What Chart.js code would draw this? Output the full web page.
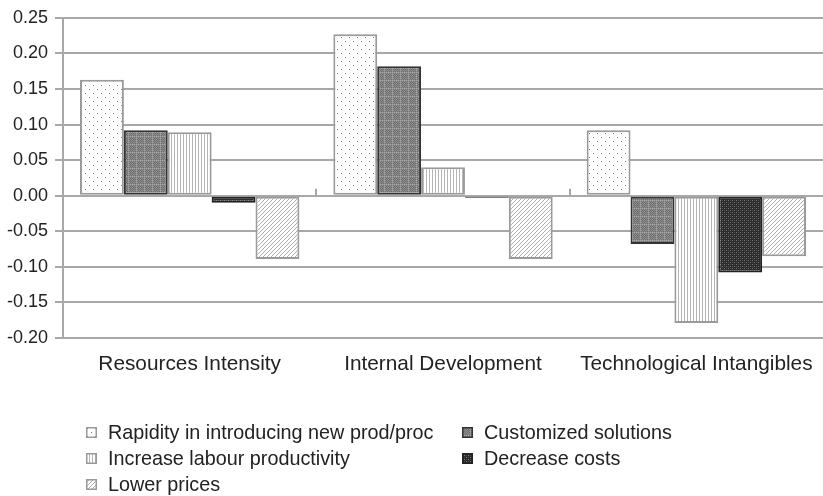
<!DOCTYPE html>
<html>
<head>
<meta charset="utf-8">
<script src="https://cdn.jsdelivr.net/npm/chart.js@4.4.1/dist/chart.umd.min.js"></script>
<style>
  html, body { margin: 0; padding: 0; background: #fff; overflow: hidden; }
  #wrap { position: relative; width: 823px; height: 496px; }
  #c { position: absolute; left: 0; top: 0; }
  #legend { position: absolute; left: 0; top: 0; width: 823px; height: 496px; pointer-events: none;
    font-family: "Liberation Sans", Arial, sans-serif; font-size: 19.8px; color: #222; }
  .li { position: absolute; white-space: nowrap; line-height: 24px; height: 24px; }
  .li canvas { position: absolute; left: 0; top: 7px; }
  .li span { position: absolute; left: 22px; top: 0; }
</style>
</head>
<body>
<div id="wrap">
  <canvas id="c" width="823" height="399"></canvas>
  <div id="legend"></div>
</div>
<script>
const categories = ["Resources Intensity", "Internal Development", "Technological Intangibles"];
const seriesNames = ["Rapidity in introducing new prod/proc", "Customized solutions", "Increase labour productivity", "Decrease costs", "Lower prices"];
const rapidity   = [0.163, 0.227, 0.092];
const customized = [0.092, 0.182, -0.068];
const increase   = [0.089, 0.040, -0.179];
const decrease   = [-0.010, -0.003, -0.108];
const lower      = [-0.089, -0.089, -0.085];
const yTicks = [-0.20, -0.15, -0.10, -0.05, 0.00, 0.05, 0.10, 0.15, 0.20, 0.25];

function makePattern(kind) {
  const c = document.createElement('canvas');
  const g = c.getContext('2d');
  if (kind === 'dots') {
    c.width = 8; c.height = 8;
    g.fillStyle = '#ffffff'; g.fillRect(0, 0, 8, 8);
    g.fillStyle = '#777';
    g.fillRect(1, 1, 1, 1); g.fillRect(5, 5, 1, 1);
  } else if (kind === 'checker') {
    c.width = 8; c.height = 8;
    g.fillStyle = '#8c8c8c'; g.fillRect(0, 0, 8, 8);
    for (let y = 0; y < 8; y++) for (let x = 0; x < 8; x++) {
      if ((x + y) % 2 === 0) { g.fillStyle = '#6f6f6f'; g.fillRect(x, y, 1, 1); }
    }
    g.fillStyle = '#a9a9a9';
    for (let i = 0; i < 8; i += 2) { g.fillRect(i, 0, 1, 1); g.fillRect(0, i, 1, 1); }
  } else if (kind === 'vlines') {
    c.width = 3; c.height = 3;
    g.fillStyle = '#ffffff'; g.fillRect(0, 0, 3, 3);
    g.fillStyle = '#b5b5b5'; g.fillRect(0, 0, 1, 3);
  } else if (kind === 'dark') {
    c.width = 4; c.height = 4;
    g.fillStyle = '#2b2b2b'; g.fillRect(0, 0, 4, 4);
    g.fillStyle = '#7a7a7a';
    g.fillRect(0, 0, 1, 1); g.fillRect(2, 2, 1, 1);
    g.fillStyle = '#4a4a4a';
    g.fillRect(2, 0, 1, 1); g.fillRect(0, 2, 1, 1);
  } else if (kind === 'diag') {
    c.width = 4; c.height = 4;
    g.fillStyle = '#ffffff'; g.fillRect(0, 0, 4, 4);
    g.fillStyle = '#b0b0b0';
    for (let i = 0; i < 4; i++) g.fillRect(3 - i, i, 1, 1);
  }
  return c;
}

const ctx = document.getElementById('c').getContext('2d');
const kinds = ['dots', 'checker', 'vlines', 'dark', 'diag'];
const borders = ['#9a9a9a', '#333333', '#9a9a9a', '#222222', '#9a9a9a'];
const values = [rapidity, customized, increase, decrease, lower];
const patternCanvases = kinds.map(makePattern);
const patterns = patternCanvases.map(pc => ctx.createPattern(pc, 'repeat'));

const datasets = seriesNames.map((name, i) => ({
  label: name,
  data: values[i],
  backgroundColor: patterns[i],
  borderColor: borders[i],
  borderWidth: 2,
  borderSkipped: false,
  categoryPercentage: 0.866,
  barPercentage: 1.0
}));

const zeroTicks = {
  id: 'zeroTicks',
  afterDatasetsDraw(chart) {
    const x = chart.scales.x, y = chart.scales.y;
    const y0 = y.getPixelForValue(0);
    const g = chart.ctx;
    g.save();
    g.strokeStyle = '#a6a6a6';
    g.lineWidth = 2;
    for (let i = 0; i < categories.length - 1; i++) {
      const px = Math.round((x.getPixelForValue(i) + x.getPixelForValue(i + 1)) / 2);
      g.beginPath(); g.moveTo(px, y0 - 7); g.lineTo(px, y0); g.stroke();
    }
    g.restore();
  }
};

new Chart(ctx, {
  type: 'bar',
  data: { labels: categories, datasets },
  plugins: [zeroTicks],
  options: {
    responsive: false,
    animation: false,
    layout: { padding: { top: 4, right: 0, bottom: 16, left: 0 } },
    plugins: { legend: { display: false }, tooltip: { enabled: false } },
    scales: {
      x: {
        grid: { display: false },
        border: { display: false },
        ticks: { color: '#222', padding: 6, maxRotation: 0, font: { family: 'Liberation Sans', size: 20.8 } }
      },
      y: {
        min: -0.20, max: 0.25,
        afterBuildTicks(axis) { axis.ticks = yTicks.map(v => ({ value: v })); },
        grid: { color: '#a8a8a8', lineWidth: 2, tickLength: 8 },
        border: { color: '#a8a8a8', width: 2 },
        ticks: {
          color: '#222', padding: 7,
          font: { family: 'Liberation Sans', size: 18 },
          callback: v => Number(v).toFixed(2)
        }
      }
    }
  }
});

// HTML legend in two columns
const legendPos = [[86, 420], [462, 420], [86, 446], [462, 446], [86, 472]];
const legend = document.getElementById('legend');
seriesNames.forEach((name, i) => {
  const d = document.createElement('div');
  d.className = 'li';
  d.style.left = legendPos[i][0] + 'px';
  d.style.top = legendPos[i][1] + 'px';
  const sw = document.createElement('canvas');
  sw.width = 11; sw.height = 11;
  const sg = sw.getContext('2d');
  sg.fillStyle = sg.createPattern(patternCanvases[i], 'repeat');
  sg.fillRect(0, 0, 11, 11);
  sg.strokeStyle = borders[i];
  sg.lineWidth = 1.5;
  sg.strokeRect(0.75, 0.75, 9.5, 9.5);
  const t = document.createElement('span');
  t.textContent = name;
  d.appendChild(sw); d.appendChild(t);
  legend.appendChild(d);
});
</script>
</body>
</html>
